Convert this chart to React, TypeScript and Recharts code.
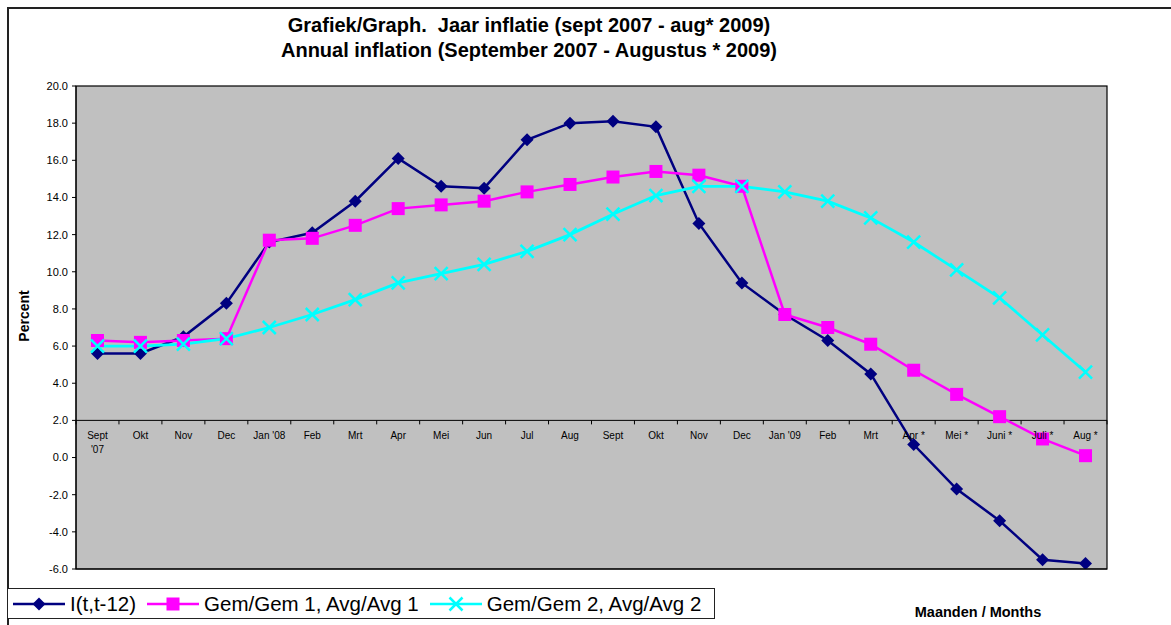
import React from 'react';
import { LineChart, Line, XAxis, YAxis, CartesianGrid, ReferenceLine } from 'recharts';

// ---- data ----
const monthLabels = [
  "Sept '07", 'Okt', 'Nov', 'Dec', "Jan '08", 'Feb', 'Mrt', 'Apr', 'Mei', 'Jun', 'Jul', 'Aug',
  'Sept', 'Okt', 'Nov', 'Dec', "Jan '09", 'Feb', 'Mrt', 'Apr *', 'Mei *', 'Juni *', 'Juli *', 'Aug *',
];
const inflationYoY = [5.6, 5.6, 6.5, 8.3, 11.6, 12.1, 13.8, 16.1, 14.6, 14.5, 17.1, 18.0, 18.1, 17.8, 12.6, 9.4, 7.7, 6.3, 4.5, 0.7, -1.7, -3.4, -5.5, -5.7];
const avgAvg1 = [6.3, 6.2, 6.3, 6.4, 11.7, 11.8, 12.5, 13.4, 13.6, 13.8, 14.3, 14.7, 15.1, 15.4, 15.2, 14.6, 7.7, 7.0, 6.1, 4.7, 3.4, 2.2, 1.0, 0.1];
const avgAvg2 = [6.0, 6.0, 6.1, 6.4, 7.0, 7.7, 8.5, 9.4, 9.9, 10.4, 11.1, 12.0, 13.1, 14.1, 14.6, 14.6, 14.3, 13.8, 12.9, 11.6, 10.1, 8.6, 6.6, 4.6];
const yTicks = [-6, -4, -2, 0, 2, 4, 6, 8, 10, 12, 14, 16, 18, 20];
const seriesNames = ['I(t,t-12)', 'Gem/Gem 1, Avg/Avg 1', 'Gem/Gem 2, Avg/Avg 2'];

// ---- layout ----
const W = 1171;
const H = 625;
const PLOT_LEFT = 76;
const PLOT_RIGHT = 1107;
const PLOT_TOP = 86;
const PLOT_BOTTOM = 569;
const Y_MIN = -6;
const Y_MAX = 20;
const AXIS_CROSS = 2;
const Y_AXIS_W = 60;
const N = monthLabels.length;
const STEP = (PLOT_RIGHT - PLOT_LEFT) / N;
const axisYPix = PLOT_TOP + ((Y_MAX - AXIS_CROSS) / (Y_MAX - Y_MIN)) * (PLOT_BOTTOM - PLOT_TOP);
const FONT = '"Liberation Sans", Arial, Helvetica, sans-serif';

const NAVY = '#000080';
const MAGENTA = '#FF00FF';
const CYAN = '#00FFFF';

const data = monthLabels.map((label, i) => ({
  idx: i,
  label,
  yoy: inflationYoY[i],
  avg1: avgAvg1[i],
  avg2: avgAvg2[i],
}));

const XTick = (props: any) => {
  const { x, payload, index } = props;
  const label: string = monthLabels[payload.value];
  const parts = label === "Sept '07" ? ['Sept', "'07"] : [label];
  return (
    <g>
      <line x1={x - STEP / 2} x2={x - STEP / 2} y1={axisYPix} y2={axisYPix + 4} stroke="#000" strokeWidth={1} />
      {index === N - 1 && (
        <line x1={x + STEP / 2} x2={x + STEP / 2} y1={axisYPix} y2={axisYPix + 4} stroke="#000" strokeWidth={1} />
      )}
      <text x={x} y={axisYPix + 19} textAnchor="middle" fontSize={10} fill="#000" fontFamily={FONT}>
        {parts.map((p, k) => (
          <tspan key={k} x={x} dy={k === 0 ? 0 : 14}>
            {p}
          </tspan>
        ))}
      </text>
    </g>
  );
};

const diamondPath = (cx: number, cy: number, s: number) =>
  `M${cx},${cy - s}L${cx + s},${cy}L${cx},${cy + s}L${cx - s},${cy}Z`;

const DiamondDot = (p: any) => {
  const { cx, cy, index } = p;
  if (cx == null || cy == null) return <g key={`d-${index}`} />;
  return <path key={`d-${index}`} d={diamondPath(cx, cy, 6.5)} fill={NAVY} />;
};

const SquareDot = (p: any) => {
  const { cx, cy, index } = p;
  if (cx == null || cy == null) return <g key={`s-${index}`} />;
  return <rect key={`s-${index}`} x={cx - 6.5} y={cy - 6.5} width={13} height={13} fill={MAGENTA} />;
};

const CrossDot = (p: any) => {
  const { cx, cy, index } = p;
  if (cx == null || cy == null) return <g key={`x-${index}`} />;
  const s = 6.5;
  return (
    <path
      key={`x-${index}`}
      d={`M${cx - s},${cy - s}L${cx + s},${cy + s}M${cx - s},${cy + s}L${cx + s},${cy - s}`}
      stroke={CYAN}
      strokeWidth={2.5}
      fill="none"
    />
  );
};

const LegendIcon = ({ kind, color }: { kind: number; color: string }) => (
  <svg width={52} height={20} style={{ display: 'block', marginRight: 5 }}>
    <line x1={0} x2={52} y1={10} y2={10} stroke={color} strokeWidth={2.5} />
    {kind === 0 && <path d={diamondPath(26, 10, 6.5)} fill={color} />}
    {kind === 1 && <rect x={19.5} y={3.5} width={13} height={13} fill={color} />}
    {kind === 2 && (
      <path d="M19.5,3.5L32.5,16.5M19.5,16.5L32.5,3.5" stroke={color} strokeWidth={2.5} fill="none" />
    )}
  </svg>
);

const legendColors = [NAVY, MAGENTA, CYAN];

export default function App() {
  return (
    <div
      style={{
        position: 'absolute',
        left: 0,
        top: 0,
        width: W,
        height: H,
        overflow: 'hidden',
        background: '#fff',
        fontFamily: FONT,
      }}
    >
      {/* outer frame */}
      <div style={{ position: 'absolute', left: 7, top: 7, width: W - 7, height: 1.5, background: '#222' }} />
      <div style={{ position: 'absolute', left: 7, top: 7, width: 1.5, height: H - 7, background: '#222' }} />

      {/* title */}
      <div
        style={{
          position: 'absolute',
          left: 229,
          width: 600,
          top: 13,
          textAlign: 'center',
          fontWeight: 'bold',
          fontSize: 20,
          lineHeight: '24.5px',
          whiteSpace: 'pre',
          color: '#000',
        }}
      >
        <div>Grafiek/Graph.  Jaar inflatie (sept 2007 - aug* 2009)</div>
        <div>Annual inflation (September 2007 - Augustus * 2009)</div>
      </div>

      <div style={{ position: 'absolute', left: 0, top: 0 }}>
        <LineChart
          width={W}
          height={H}
          data={data}
          margin={{ top: PLOT_TOP, right: W - PLOT_RIGHT, bottom: 0, left: PLOT_LEFT - Y_AXIS_W }}
        >
          <CartesianGrid horizontal={false} vertical={false} fill="#C0C0C0" fillOpacity={1} />
          <XAxis
            dataKey="idx"
            type="category"
            height={H - PLOT_BOTTOM}
            padding={{ left: STEP / 2, right: STEP / 2 }}
            axisLine={{ stroke: '#000' }}
            tickLine={false}
            interval={0}
            tick={<XTick />}
          />
          <YAxis
            width={Y_AXIS_W}
            domain={[Y_MIN, Y_MAX]}
            ticks={yTicks}
            interval={0}
            allowDataOverflow
            tickFormatter={(v: number) => v.toFixed(1)}
            tick={{ fontSize: 11, fill: '#000', fontFamily: FONT }}
            tickSize={4}
            tickMargin={4}
            axisLine={{ stroke: '#000' }}
            tickLine={{ stroke: '#000' }}
          />
          <ReferenceLine y={AXIS_CROSS} stroke="#000" strokeWidth={1} />
          <Line
            type="linear"
            dataKey="yoy"
            name={seriesNames[0]}
            stroke={NAVY}
            strokeWidth={2.5}
            dot={DiamondDot}
            activeDot={false}
            isAnimationActive={false}
          />
          <Line
            type="linear"
            dataKey="avg1"
            name={seriesNames[1]}
            stroke={MAGENTA}
            strokeWidth={2.5}
            dot={SquareDot}
            activeDot={false}
            isAnimationActive={false}
          />
          <Line
            type="linear"
            dataKey="avg2"
            name={seriesNames[2]}
            stroke={CYAN}
            strokeWidth={2.75}
            dot={CrossDot}
            activeDot={false}
            isAnimationActive={false}
          />
        </LineChart>
      </div>

      {/* plot frame */}
      <svg width={W} height={H} style={{ position: 'absolute', left: 0, top: 0, pointerEvents: 'none' }}>
        <rect
          x={PLOT_LEFT}
          y={PLOT_TOP}
          width={PLOT_RIGHT - PLOT_LEFT}
          height={PLOT_BOTTOM - PLOT_TOP}
          fill="none"
          stroke="#000"
          strokeWidth={1.2}
        />
      </svg>

      {/* y-axis title */}
      <div
        style={{
          position: 'absolute',
          left: 24,
          top: 316,
          transform: 'translate(-50%, -50%) rotate(-90deg)',
          fontWeight: 'bold',
          fontSize: 14,
          whiteSpace: 'nowrap',
          color: '#000',
        }}
      >
        Percent
      </div>

      {/* legend */}
      <div
        style={{
          position: 'absolute',
          left: 7,
          top: 588,
          width: 708,
          height: 31,
          boxSizing: 'border-box',
          border: '1.5px solid #222',
          display: 'flex',
          alignItems: 'center',
          paddingLeft: 5,
          background: '#fff',
        }}
      >
        {seriesNames.map((name, i) => (
          <div key={name} style={{ display: 'flex', alignItems: 'center', marginRight: 11 }}>
            <LegendIcon kind={i} color={legendColors[i]} />
            <span style={{ fontSize: 20.5, lineHeight: '22px', color: '#000', whiteSpace: 'nowrap' }}>{name}</span>
          </div>
        ))}
      </div>

      {/* x-axis title */}
      <div
        style={{
          position: 'absolute',
          left: 978,
          top: 604,
          transform: 'translateX(-50%)',
          fontWeight: 'bold',
          fontSize: 14.5,
          whiteSpace: 'nowrap',
          color: '#000',
        }}
      >
        Maanden / Months
      </div>
    </div>
  );
}
